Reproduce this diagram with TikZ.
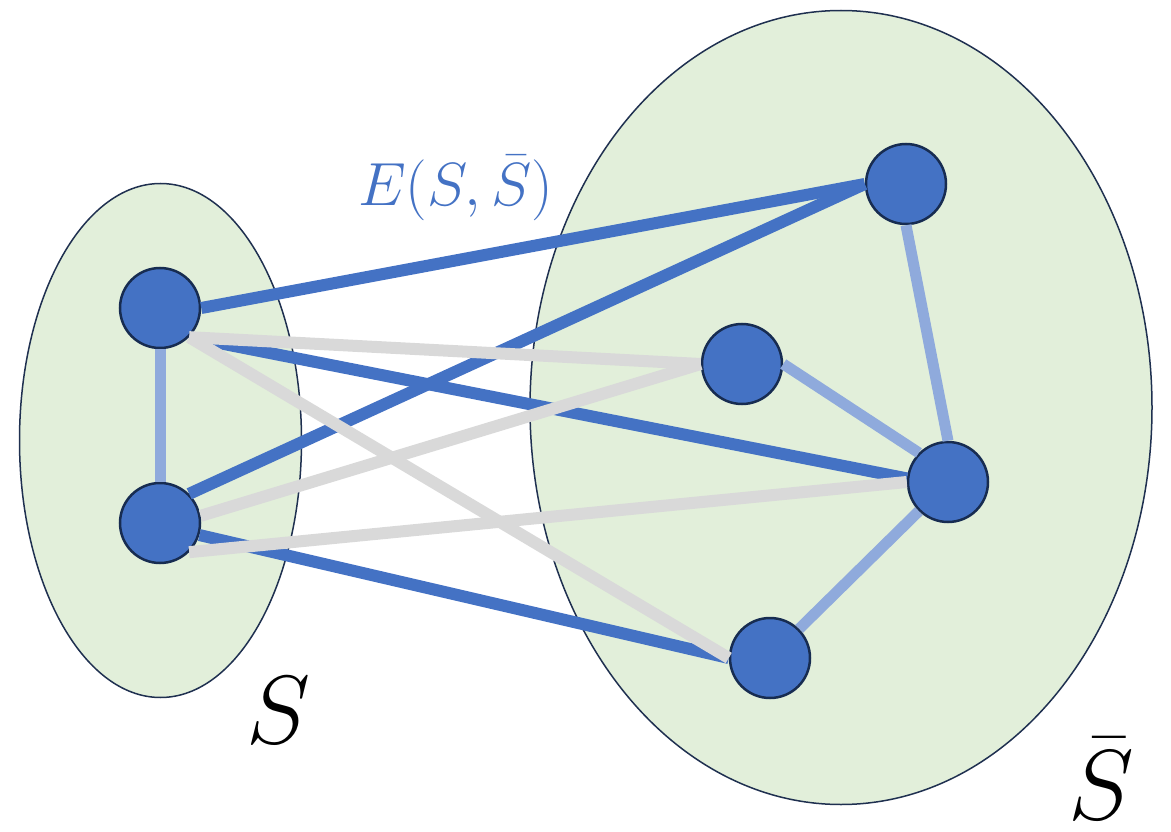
\documentclass[tikz,border=0pt]{standalone}
\usepackage{graphicx}
\definecolor{grpfill}{HTML}{E2EFDA}
\definecolor{grpline}{HTML}{1F3050}
\definecolor{vtxfill}{HTML}{4472C4}
\definecolor{vtxline}{HTML}{172C51}
\definecolor{cutblue}{HTML}{4472C4}
\definecolor{cutgray}{HTML}{D9D9D9}
\definecolor{inblue}{HTML}{8FAADC}
\begin{document}
\begin{tikzpicture}[x=1pt,y=-1pt,
  grp/.style={fill=grpfill, draw=grpline, line width=1.5pt},
  vtx/.style={circle, fill=vtxfill, draw=vtxline, line width=2.5pt, minimum size=80pt, inner sep=0pt},
  cutedge/.style={draw=cutblue, line width=12pt},
  noncut/.style={draw=cutgray, line width=12pt},
  inedge/.style={draw=inblue, line width=11pt},
  lbl/.style={anchor=base west, inner sep=0pt}]
\useasboundingbox (0,0) rectangle (1171,832);
% groups
\draw[grp] (160.5,440.5) ellipse [x radius=141, y radius=257];
\draw[grp] (841,407.5) ellipse [x radius=311, y radius=397];
% vertices
\node[vtx] (A) at (160,308) {};
\node[vtx] (B) at (160,523) {};
\node[vtx] (C) at (906,184) {};
\node[vtx] (D) at (742,364) {};
\node[vtx] (E) at (948,482) {};
\node[vtx] (F) at (770,658) {};
% edges inside groups
\draw[inedge] (A.south) -- (B.north);
\draw[inedge] (C.south) -- (E.north);
\draw[inedge] (D.east) -- (E.135);
\draw[inedge] (E.-135) -- (F.45);
% cut edges
\draw[cutedge] (A.east) -- (C.west);
\draw[cutedge] (B.45) -- (C.west);
\draw[cutedge] (A.-45) -- (E.175);
\draw[cutedge] (B.-17) -- (F.west);
% other edges
\draw[noncut] (A.-45) -- (D.west);
\draw[noncut] (A.-45) -- (F.west);
\draw[noncut] (B.10) -- (D.west);
\draw[noncut] (B.-45) -- (E.west);
% labels
\node[lbl, text=cutblue] (cutlabel) at (358,205) {\scalebox{2.45}{\Huge$E(S,\bar{S})$}};
\node[lbl] (slabel) at (246,743) {\scalebox{3.9}{\Huge$S$}};
\node[lbl] (sbarlabel) at (1068,819) {\scalebox{4.0}{\Huge$\bar{S}$}};
\end{tikzpicture}
\end{document}
